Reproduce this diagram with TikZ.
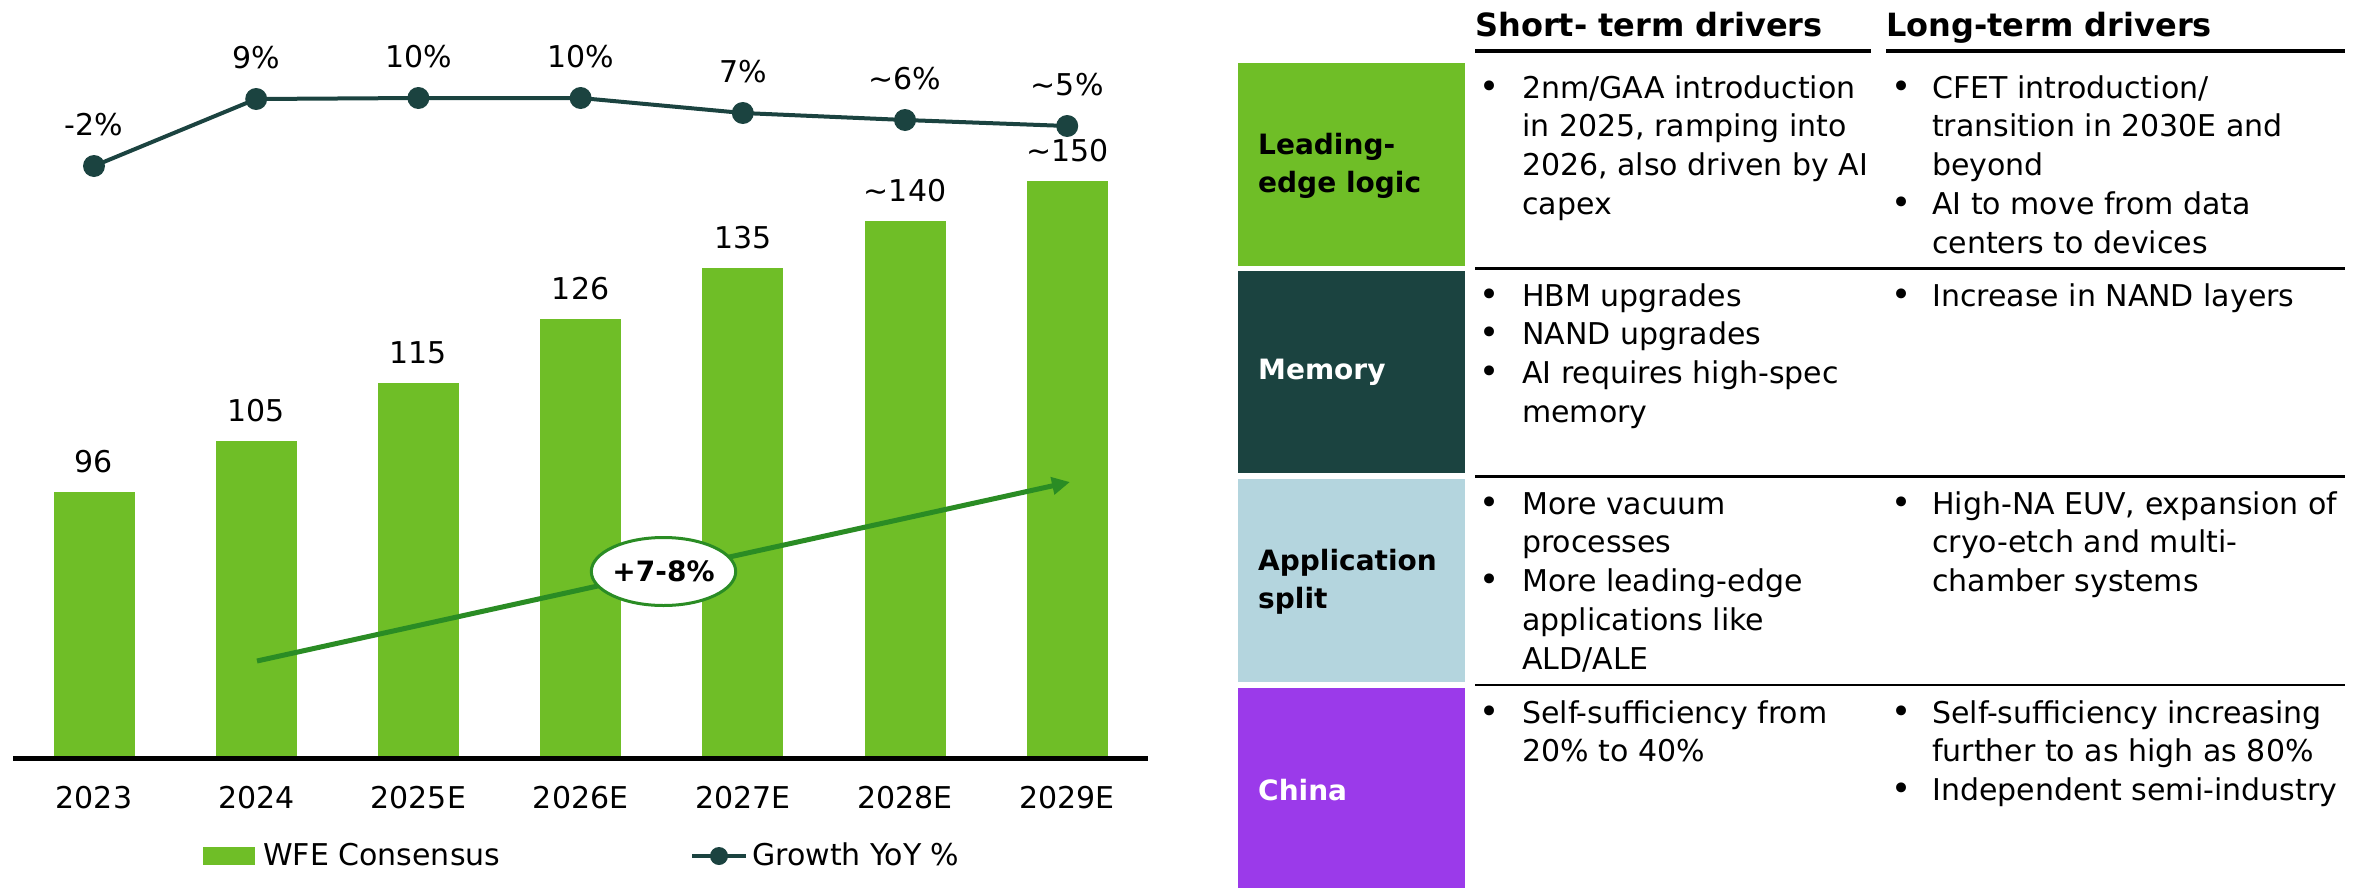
\documentclass[tikz,border=0pt]{standalone}
\usepackage{fontspec}
\setmainfont{DejaVu Sans}
\usetikzlibrary{shapes.geometric,arrows.meta,calc}

\definecolor{barGreen}{RGB}{111,190,39}
\definecolor{deepTeal}{RGB}{27,67,64}
\definecolor{trendGreen}{RGB}{42,140,36}
\definecolor{paleBlue}{RGB}{180,213,222}
\definecolor{chinaPurple}{RGB}{155,58,234}

% several lines of body text, one node per line
\newcommand\bodylines[4]{%
  \foreach \t [count=\k from 0] in {#4} {
    \node[body] (#1-\k) at (#2,#3+38.8*\k) {\t};
  }%
}

\begin{document}
\begin{tikzpicture}[x=1pt,y=-1pt,
  val/.style={font=\fontsize{30}{36}\selectfont, inner sep=0, anchor=base},
  body/.style={font=\fontsize{30}{38.8}\selectfont, inner sep=0, anchor=base west},
  dot/.style={font=\fontsize{34}{38}\selectfont, inner sep=0, anchor=base},
  head/.style={font=\fontsize{32}{38}\selectfont\bfseries, inner sep=0, anchor=base west},
  rowlabel/.style={font=\fontsize{28}{38}\selectfont\bfseries, inner sep=0, anchor=west, align=left},
  growthline/.style={draw=deepTeal, line width=4pt, line join=round},
  marker/.style={circle, fill=deepTeal, minimum size=22pt, inner sep=0},
  trend/.style={draw=trendGreen, line width=5pt, -{Triangle[length=18pt,width=17pt]}},
  rowrule/.style={draw=black, line width=2.5pt},
  headrule/.style={draw=black, line width=4pt},
]
\useasboundingbox (0,0) rectangle (2361,889);

% ---------- bar chart ----------
\foreach \i/\top/\val/\yr in {0/492/96/2023, 1/441/105/2024, 2/383/115/2025E,
    3/319/126/2026E, 4/268/135/2027E, 5/221/{\textasciitilde140}/2028E,
    6/181/{\textasciitilde150}/2029E} {
  \pgfmathsetmacro\cx{94+162.2*\i}
  \fill[barGreen] (\cx-40.5,\top) rectangle (\cx+40.5,757);
  \node[val] (v\i) at (\cx,\top-20) {\val};
  \node[val] (yr\i) at (\cx,808) {\yr};
}
\draw[line width=5pt] (13,758) -- (1148,758);

% ---------- growth line ----------
\foreach \i/\y in {0/166, 1/99, 2/98, 3/98, 4/113, 5/120, 6/126}
  \coordinate (g\i) at (94+162.2*\i,\y);
\draw[growthline] (g0) -- (g1) -- (g2) -- (g3) -- (g4) -- (g5) -- (g6);
\foreach \i/\lab in {0/-2\%, 1/9\%, 2/10\%, 3/10\%, 4/7\%,
    5/{\textasciitilde6\%}, 6/{\textasciitilde5\%}} {
  \node[marker] (m\i) at (g\i) {};
  \node[val] (pct\i) at ($(g\i)+(0,-31)$) {\lab};
}

% ---------- trend arrow ----------
\coordinate (trendA) at (257,661);
\coordinate (trendB) at (1070,482);
\draw[trend] (trendA) -- (trendB);
\node[ellipse, draw=trendGreen, line width=3pt, fill=white,
      minimum width=141pt, minimum height=68pt, inner sep=0,
      font=\fontsize{28}{30}\selectfont\bfseries]
  (cagr) at ($(trendA)!0.5!(trendB)$) {+7-8\%};

% ---------- legend ----------
\node[fill=barGreen, minimum width=52pt, minimum height=18pt, inner sep=0]
  (legBar) at (229,856) {};
\node[val, anchor=base west] (legBarText) at (263,865) {WFE Consensus};
\coordinate (legL) at (692,856);
\coordinate (legR) at (746,856);
\draw[growthline] (legL) -- (legR);
\node[circle, fill=deepTeal, minimum size=18pt, inner sep=0]
  (legDot) at ($(legL)!0.5!(legR)$) {};
\node[val, anchor=base west] (legLineText) at (752,865) {Growth YoY \%};

% ---------- table: headers ----------
\node[head] (hShort) at (1475,36) {Short- term drivers};
\node[head] (hLong) at (1886,36) {Long-term drivers};
\draw[headrule] (1475,51) -- (1871,51);
\draw[headrule] (1886,51) -- (2345,51);

% ---------- table: row labels ----------
\fill[barGreen]    (1238,63)  rectangle (1465,266);
\fill[deepTeal]    (1238,271) rectangle (1465,473);
\fill[paleBlue]    (1238,479) rectangle (1465,682);
\fill[chinaPurple] (1238,688) rectangle (1465,888);
\node[rowlabel] (rLogic) at (1258,166) {Leading-\\edge logic};
\node[rowlabel, text=white] (rMem) at (1258,372) {Memory};
\node[rowlabel] (rApp) at (1258,582) {Application\\split};
\node[rowlabel, text=white] (rChina) at (1258,790) {China};

% ---------- table: row rules ----------
\draw[rowrule] (1475,268.5) -- (2345,268.5);
\draw[rowrule] (1475,476.5) -- (2345,476.5);
\draw[rowrule] (1475,685) -- (2345,685);

% ---------- table: body ----------
% leading-edge logic
\node[dot] (bLS0) at (1490,98) {•};
\bodylines{tLS}{1522}{98}{{2nm/GAA introduction},{in 2025, ramping into},{2026, also driven by AI},{capex}}
\node[dot] (bLL0) at (1902,98) {•};
\node[dot] (bLL1) at (1902,214.4) {•};
\bodylines{tLL}{1932}{98}{{CFET introduction/},{transition in 2030E and},{beyond},{AI to move from data},{centers to devices}}

% memory
\node[dot] (bMS0) at (1490,306) {•};
\node[dot] (bMS1) at (1490,344.8) {•};
\node[dot] (bMS2) at (1490,383.6) {•};
\bodylines{tMS}{1522}{306}{{HBM upgrades},{NAND upgrades},{AI requires high-spec},{memory}}
\node[dot] (bML0) at (1902,306) {•};
\bodylines{tML}{1932}{306}{{Increase in NAND layers}}

% application split
\node[dot] (bAS0) at (1490,514) {•};
\node[dot] (bAS1) at (1490,591.6) {•};
\bodylines{tAS}{1522}{514}{{More vacuum},{processes},{More leading-edge},{applications like},{ALD/ALE}}
\node[dot] (bAL0) at (1902,514) {•};
\bodylines{tAL}{1932}{514}{{High-NA EUV, expansion of},{cryo-etch and multi-},{chamber systems}}

% china
\node[dot] (bCS0) at (1490,723) {•};
\bodylines{tCS}{1522}{723}{{Self-sufficiency from},{20\% to 40\%}}
\node[dot] (bCL0) at (1902,723) {•};
\node[dot] (bCL1) at (1902,800.6) {•};
\bodylines{tCL}{1932}{723}{{Self-sufficiency increasing},{further to as high as 80\%},{Independent semi-industry}}
\end{tikzpicture}
\end{document}
